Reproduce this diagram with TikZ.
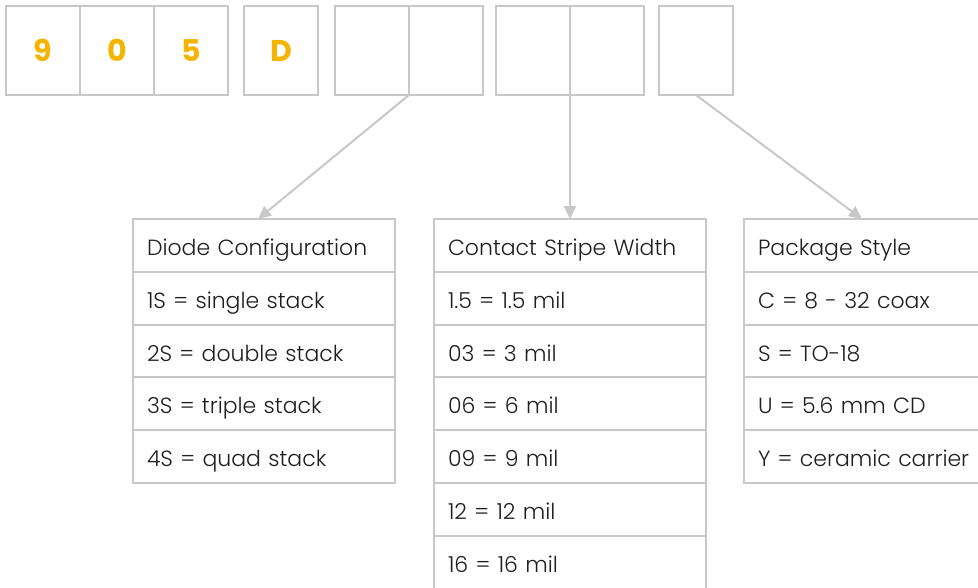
\documentclass[tikz,border=0pt]{standalone}
\usepackage{fontspec}
\setmainfont{Poppins}[UprightFont=* Light, BoldFont=* Bold]
\usetikzlibrary{positioning, calc, arrows.meta}
\definecolor{linegray}{HTML}{C8C8C8}
\definecolor{codeyellow}{HTML}{F5B400}
\definecolor{textdark}{HTML}{1E1E1E}

\begin{document}
\begin{tikzpicture}[x=1pt,y=-1pt,
        cell/.style={draw=linegray, line width=2pt, outer sep=0pt, minimum width=74pt, minimum height=89pt, inner sep=0pt, text=codeyellow, font=\fontsize{30}{30}\bfseries\selectfont},
        row/.style={draw=linegray, line width=2pt, outer sep=0pt, anchor=north west, minimum height=52.8pt, inner ysep=0pt, inner xsep=14pt, text width=#1, text height=24pt, text depth=4pt, align=left, text=textdark, font=\fontsize{22}{22}\selectfont},
        pointer/.style={draw=linegray, line width=2pt, -{Triangle[length=13pt,width=12pt]}}]
    \useasboundingbox (0,0) rectangle (978,587);
    \clip (0,0) rectangle (978,587);
    \foreach \c/\x [count=\i] in {9/43, 0/117, 5/191, D/281}{
        \node[cell] (c\i) at (\x,50.5) {\c};
    }
    \node[cell] (e1) at (372,50.5) {};
    \node[cell] (e2) at (446,50.5) {};
    \node[cell] (w1) at (533,50.5) {};
    \node[cell] (w2) at (607,50.5) {};
    \node[cell] (p) at (696,50.5) {};
    \node[row=234] (h1) at (133,219) {Diode Configuration};
    \foreach \txt [count=\i] in {1S = single stack, 2S = double stack, 3S = triple stack, 4S = quad stack}{
        \node[row=234] (a\i) at (133,219+52.8*\i) {\txt};
    }
    \node[row=244] (h2) at (434,219) {Contact Stripe Width};
    \foreach \txt [count=\i] in {1.5 = 1.5 mil, 03 = 3 mil, 06 = 6 mil, 09 = 9 mil, 12 = 12 mil, 16 = 16 mil}{
        \node[row=244] (b\i) at (434,219+52.8*\i) {\txt};
    }
    \node[row=234] (h3) at (744,219) {Package Style};
    \foreach \txt [count=\i] in {C = 8 - 32 coax, S = TO-18, U = 5.6 mm CD, Y = ceramic carrier}{
        \node[row=234] (s\i) at (744,219+52.8*\i) {\txt};
    }
    \draw[pointer] (e1.south east) -- ($(h1.north west)+(125,0)$);
    \draw[pointer] (w1.south east) -- (h2.north);
    \draw[pointer] (p.south) -- ($(h3.north west)+(118,0)$);
\end{tikzpicture}
\end{document}
